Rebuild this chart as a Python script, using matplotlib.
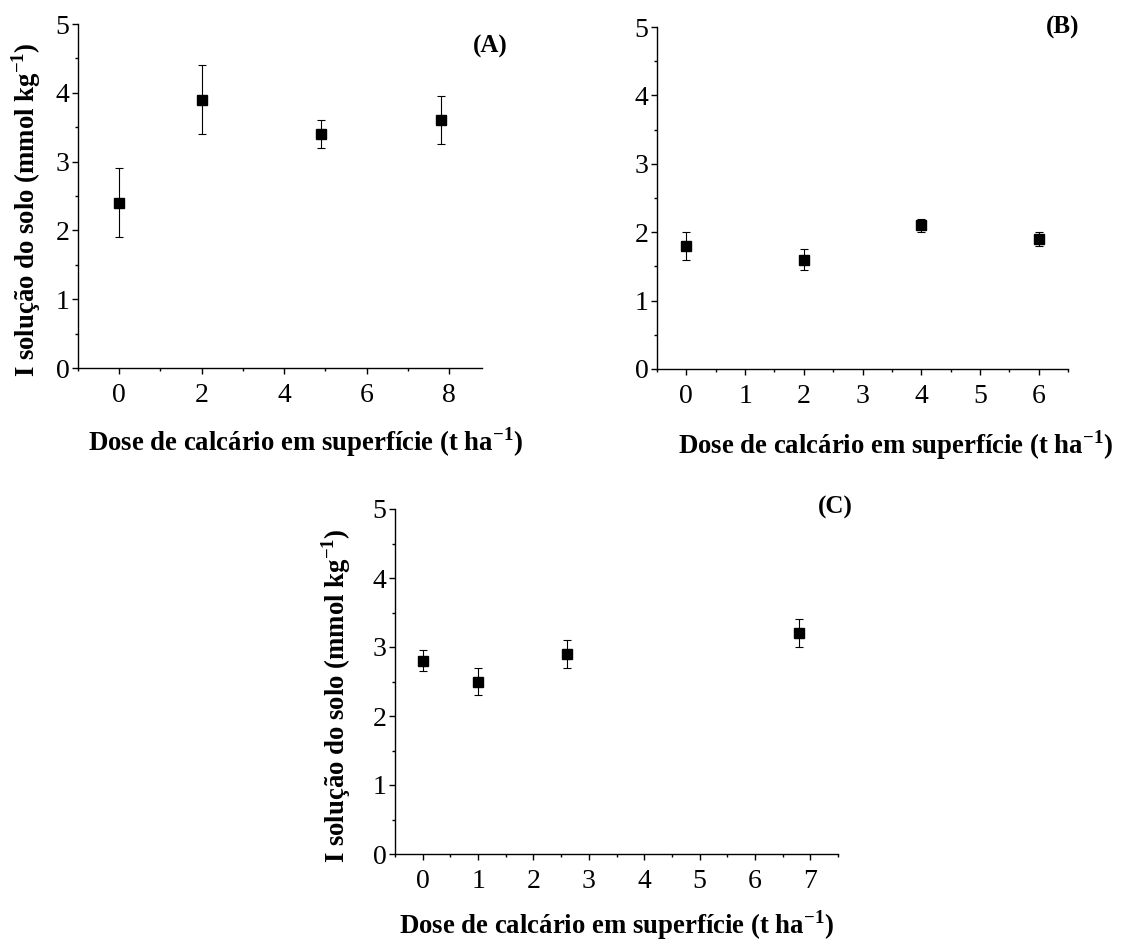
import numpy as np
import matplotlib
matplotlib.use('Agg')
import matplotlib.pyplot as plt
from matplotlib.ticker import MultipleLocator

plt.rcParams['font.family'] = ['Liberation Serif', 'DejaVu Serif']
plt.rcParams['mathtext.fontset'] = 'custom'
plt.rcParams['mathtext.rm'] = 'Liberation Serif'
plt.rcParams['mathtext.bf'] = 'Liberation Serif:bold'

# dados (dose de calcário, I na solução, erro)
dose_a = [0, 2, 4.9, 7.8]
i_a = [2.4, 3.9, 3.4, 3.6]
err_a = [0.5, 0.5, 0.2, 0.35]

dose_b = [0, 2, 4, 6]
i_b = [1.8, 1.6, 2.1, 1.9]
err_b = [0.2, 0.15, 0.1, 0.1]

dose_c = [0, 1, 2.6, 6.8]
i_c = [2.8, 2.5, 2.9, 3.2]
err_c = [0.15, 0.2, 0.2, 0.2]

xlab = r'Dose de calcário em superfície (t ha$^{\mathbf{-1}}$)'
ylab = r'I solução do solo (mmol kg$^{\mathbf{-1}}$)'
lab_fs = 19.3

fig = plt.figure(figsize=(11.28, 9.42), dpi=100)
W, H = 1128, 942

def make_ax(l, r, t, b):
    return fig.add_axes([l / W, 1 - b / H, (r - l) / W, (b - t) / H])

def style(ax, xlim, xmaj, xmin):
    ax.set_xlim(*xlim)
    ax.set_ylim(0, 5)
    ax.xaxis.set_major_locator(MultipleLocator(xmaj))
    ax.xaxis.set_minor_locator(MultipleLocator(xmin))
    ax.yaxis.set_major_locator(MultipleLocator(1))
    ax.yaxis.set_minor_locator(MultipleLocator(0.5))
    ax.spines['top'].set_visible(False)
    ax.spines['right'].set_visible(False)
    for s in ['left', 'bottom']:
        ax.spines[s].set_linewidth(1.0)
    ax.tick_params(which='major', direction='out', length=4, width=1.0, labelsize=20)
    ax.tick_params(which='minor', direction='out', length=2.5, width=1.0)
    ax.tick_params(axis='x', which='major', pad=7)
    ax.tick_params(axis='y', which='major', pad=2)

def draw(ax, x, y, e):
    ax.errorbar(x, y, yerr=e, fmt='s', color='black', ms=6.5, elinewidth=0.8,
                capsize=2.8, capthick=0.8, clip_on=False)

# (A)
axa = make_ax(78, 482, 24, 368)
draw(axa, dose_a, i_a, err_a)
style(axa, (-1, 8.8), 2, 1)
axa.set_xlabel(xlab, fontsize=lab_fs, fontweight='bold')
axa.xaxis.set_label_coords(0.562, -0.166)
axa.set_ylabel(ylab, fontsize=lab_fs, fontweight='bold')
axa.yaxis.set_label_coords(-0.087, 0.46)
fig.text(490 / W, 1 - 46 / H, '(A)', fontsize=18, fontweight='bold', ha='center', va='center')

# (B)
axb = make_ax(657, 1068, 27, 369)
draw(axb, dose_b, i_b, err_b)
style(axb, (-0.5, 6.5), 1, 0.5)
axb.set_xlabel(xlab, fontsize=lab_fs, fontweight='bold')
axb.xaxis.set_label_coords(0.579, -0.173)
fig.text(1063 / W, 1 - 27 / H, '(B)', fontsize=18, fontweight='bold', ha='center', va='center')

# (C)
axc = make_ax(395, 838, 509, 854)
draw(axc, dose_c, i_c, err_c)
style(axc, (-0.5, 7.5), 1, 0.5)
axc.set_xlabel(xlab, fontsize=lab_fs, fontweight='bold')
axc.xaxis.set_label_coords(0.5, -0.157)
axc.set_ylabel(ylab, fontsize=lab_fs, fontweight='bold')
axc.yaxis.set_label_coords(-0.095, 0.46)
fig.text(835 / W, 1 - 507 / H, '(C)', fontsize=18, fontweight='bold', ha='center', va='center')

fig.savefig('out.png', dpi=100)
